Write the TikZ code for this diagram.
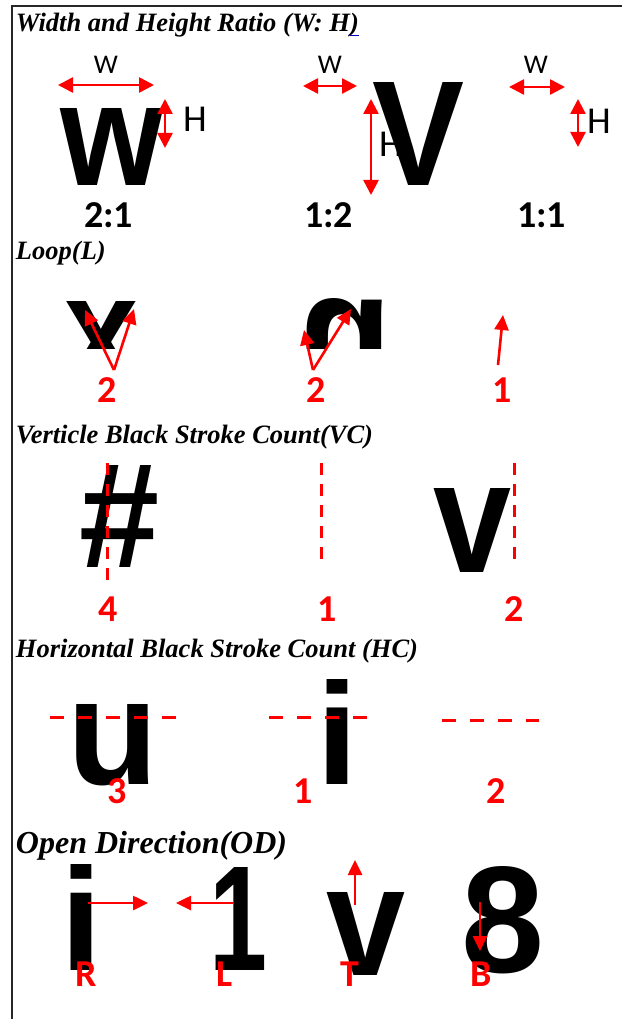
\documentclass[tikz,border=0pt]{standalone}
\usepackage{graphicx}
\usepackage{fontspec}
\setmainfont{Liberation Serif}
\newfontfamily\calfont{Carlito}
\newfontfamily\glyphfont{Liberation Sans}
\usetikzlibrary{arrows.meta}

% a big bold glyph, stretched to a given width and height
\newcommand\bigglyph[3]{\resizebox{#1}{#2}{\glyphfont\bfseries\fontsize{100}{100}\selectfont #3}}

\tikzset{
  every node/.style={inner sep=0pt, outer sep=0pt},
  heading/.style={anchor=base west, font=\bfseries\itshape\fontsize{26.5}{26.5}\selectfont},
  bigheading/.style={anchor=base west, font=\bfseries\itshape\fontsize{32}{32}\selectfont},
  dimarrow/.style={red, line width=2.6pt,
    {Triangle[length=15pt,width=15pt]}-{Triangle[length=15pt,width=15pt]}},
  ptr/.style={red, line width=2.6pt, -{Triangle[length=15pt,width=14pt]}},
  vdash/.style={red, line width=3pt, dash pattern=on 12pt off 9pt},
  hdash/.style={red, line width=3pt, dash pattern=on 14pt off 14pt},
  wlabel/.style={font=\calfont\fontsize{27}{27}\selectfont},
  hlabel/.style={font=\calfont\fontsize{38}{38}\selectfont},
  ratio/.style={font=\calfont\bfseries\fontsize{38}{38}\selectfont},
  count/.style={text=red, font=\calfont\bfseries\fontsize{38}{38}\selectfont},
}

\begin{document}
\begin{tikzpicture}[x=1pt, y=-1pt]
\useasboundingbox (0,0) rectangle (622,1019);
\fill[white] (0,0) rectangle (622,1019);

% frame
\draw[black!85, line width=2pt] (12,1019) -- (12,6) -- (622,6);

% ---------- width and height ratio ----------
\node[heading] (t1) at (16,32) {Width and Height Ratio (W: H)};
\draw[blue!75!black, line width=1.6pt] ([xshift=-8.5pt,yshift=-3.5pt]t1.base east) -- ([xshift=0.5pt,yshift=-3.5pt]t1.base east);

\node[hlabel] (hl2) at (391,144.5) {H};
\node (gw) at (112,146.5) {\bigglyph{103pt}{77pt}{w}};
\node (gV) at (418.5,133.5) {\bigglyph{92pt}{103pt}{V}};

\node[wlabel] (wl1) at (106,65) {W};
\node[wlabel] (wl2) at (330,65) {W};
\node[wlabel] (wl3) at (536,65) {W};
\node[hlabel] (hl1) at (195,119.5) {H};
\node[hlabel] (hl3) at (599,121.5) {H};

\coordinate (w1a) at (58,85);  \coordinate (w1b) at (154,85);
\coordinate (h1a) at (165,99); \coordinate (h1b) at (165,148);
\coordinate (w2a) at (303,86); \coordinate (w2b) at (357,86);
\coordinate (h2a) at (371,99); \coordinate (h2b) at (371,195);
\coordinate (w3a) at (509,87); \coordinate (w3b) at (565,87);
\coordinate (h3a) at (578,99); \coordinate (h3b) at (578,147);
\draw[dimarrow] (w1a) -- (w1b);
\draw[dimarrow] (h1a) -- (h1b);
\draw[dimarrow] (w2a) -- (w2b);
\draw[dimarrow] (h2a) -- (h2b);
\draw[dimarrow] (w3a) -- (w3b);
\draw[dimarrow] (h3a) -- (h3b);

\node[ratio] (r1) at (108.5,215) {2:1};
\node[ratio] (r2) at (328.5,215) {1:2};
\node[ratio] (r3) at (541.5,215) {1:1};

% ---------- loop ----------
\node[heading] (t2) at (16,259) {Loop(L)};

\begin{scope}
  \clip (50,290) rectangle (150,348);
  \node (gx) at (101.5,343.5) {\bigglyph{74pt}{85pt}{x}};
\end{scope}
\begin{scope}
  \clip (290,290) rectangle (400,348);
  \node (gn) at (345,340.5) {\bigglyph{95pt}{85pt}{\reflectbox{n}}};
\end{scope}

\coordinate (l1o) at (114,370); \coordinate (l1a) at (85,310); \coordinate (l1b) at (134,309);
\coordinate (l2o) at (313,370); \coordinate (l2a) at (304,330); \coordinate (l2b) at (351,309);
\coordinate (l3o) at (498,365); \coordinate (l3a) at (503,315);
\draw[ptr] (l1o) -- (l1a);
\draw[ptr] (l1o) -- (l1b);
\draw[ptr] (l2o) -- (l2a);
\draw[ptr] (l2o) -- (l2b);
\draw[ptr] (l3o) -- (l3a);

\node[count] (c1) at (107,390) {2};
\node[count] (c2) at (316,390) {2};
\node[count] (c3) at (502,390) {1};

% ---------- vertical stroke count ----------
\node[heading] (t3) at (16,443) {Verticle Black Stroke Count(VC)};

\node (ghash) at (120,516) {\bigglyph{80pt}{102pt}{\#}};
\node (gv1) at (472,530) {\bigglyph{78pt}{84pt}{v}};

\coordinate (d1a) at (107,463); \coordinate (d1b) at (107,587);
\coordinate (d2a) at (321,463); \coordinate (d2b) at (321,561);
\coordinate (d3a) at (514,463); \coordinate (d3b) at (514,561);
\draw[vdash] (d1a) -- (d1b);
\draw[vdash] (d2a) -- (d2b);
\draw[vdash] (d3a) -- (d3b);

\node[count] (c4) at (108,609) {4};
\node[count] (c5) at (327,609) {1};
\node[count] (c6) at (514,609) {2};

% ---------- horizontal stroke count ----------
\node[heading] (t4) at (16,657) {Horizontal Black Stroke Count (HC)};

\node (gu) at (113.5,745) {\bigglyph{91pt}{80pt}{u}};
\node (gi1) at (337,731.5) {\bigglyph{42pt}{105pt}{i}};

\coordinate (e1a) at (50,717);  \coordinate (e1b) at (178,717);
\coordinate (e2a) at (269,717); \coordinate (e2b) at (369,717);
\coordinate (e3a) at (442,720); \coordinate (e3b) at (539,720);
\draw[hdash] (e1a) -- (e1b);
\draw[hdash] (e2a) -- (e2b);
\draw[hdash] (e3a) -- (e3b);

\node[count] (c7) at (117,791) {3};
\node[count] (c8) at (303,791) {1};
\node[count] (c9) at (496,791) {2};

% ---------- open direction ----------
\node[bigheading] (t5) at (16,853) {Open Direction(OD)};

\node (gi2) at (82,917) {\bigglyph{42pt}{106pt}{i}};
\node (gone) at (238,918.5) {\bigglyph{58pt}{103pt}{1}};
\node (gv2) at (365.5,933.5) {\bigglyph{79pt}{83pt}{v}};
\node (geight) at (502.5,920) {\bigglyph{83pt}{106pt}{8}};

\coordinate (oRa) at (88,903);  \coordinate (oRb) at (148,903);
\coordinate (oLa) at (234,903); \coordinate (oLb) at (176,903);
\coordinate (oTa) at (355,905); \coordinate (oTb) at (355,860);
\coordinate (oBa) at (480,902); \coordinate (oBb) at (480,951);
\draw[ptr] (oRa) -- (oRb);
\draw[ptr] (oLa) -- (oLb);
\draw[ptr] (oTa) -- (oTb);
\draw[ptr] (oBa) -- (oBb);

\node[count] (dR) at (86,974) {R};
\node[count] (dL) at (225,974) {L};
\node[count] (dT) at (350,974) {T};
\node[count] (dB) at (481,974) {B};
\end{tikzpicture}
\end{document}
